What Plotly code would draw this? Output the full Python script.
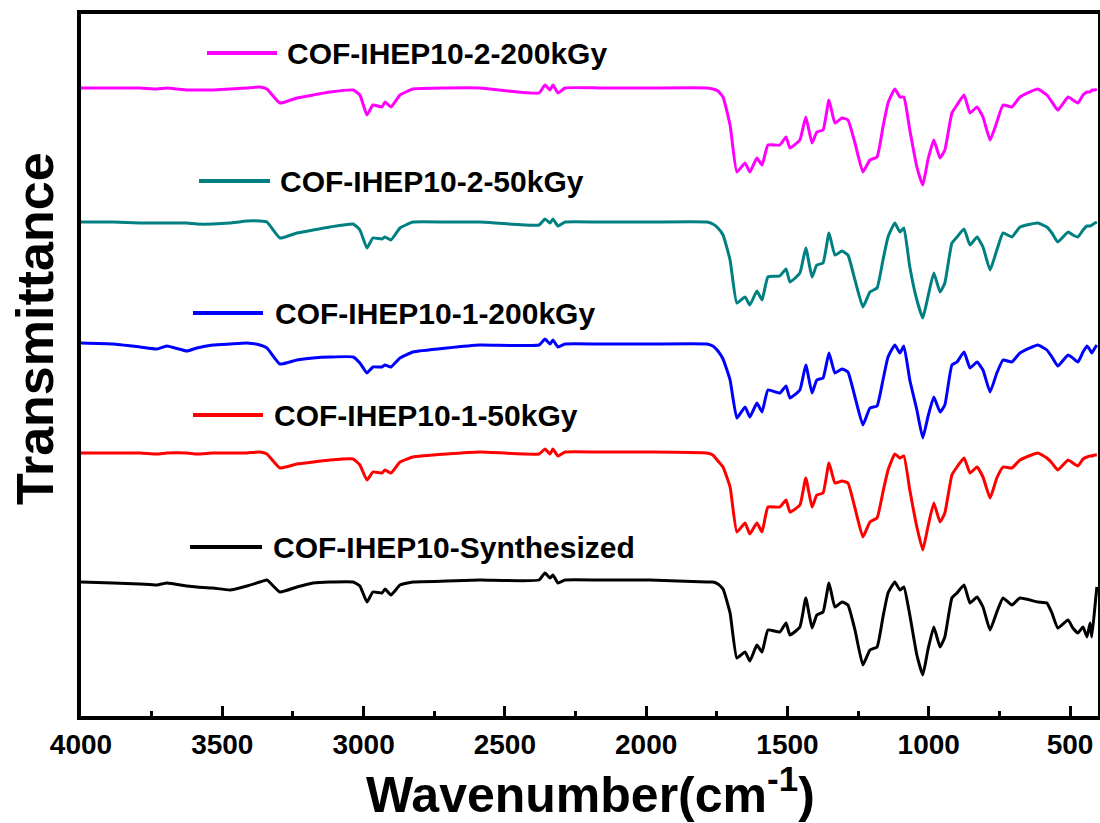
import plotly.graph_objects as go

# wavenumbers (cm-1) where the spectra were read
wavenumber = [
    4000, 3887, 3791, 3731, 3696, 3625, 3590, 3533, 3473, 3413, 3367, 3342, 3296, 3236, 3179, 3119,
    3037, 3013, 2988, 2967, 2935, 2924, 2903, 2871, 2825, 2705, 2588, 2379, 2358, 2340, 2330, 2312,
    2287, 2163, 1987, 1785, 1764, 1746,
    1728, 1703, 1679, 1650, 1633, 1608, 1590, 1569, 1527, 1505, 1491, 1456, 1435, 1413, 1396, 1374,
    1353, 1332, 1307, 1286, 1261, 1233, 1208, 1183, 1162, 1144, 1120, 1102, 1088, 1067, 1042, 1021,
    1003, 982, 960, 943, 918, 900, 875, 854, 829, 808, 783, 759, 737, 706, 677, 614, 582, 564, 543,
    507, 490, 472, 454, 440, 429, 423, 412, 405,
]

# relative transmittance (a.u.), each curve relative to its own baseline
t_synth = [
    0, -1, -2, -3, -1, -4, -5, -6, -8, -4, 0, 2, -10, -5, -1, 0, 0, -4, -20, -10, -11, -7, -13, -3,
    0, 1, 2, 2, 9, 4, 7, -1, 2, 2, 2, 0, 0, -2,
    -7, -31, -76, -70, -79, -63, -70, -48, -50, -41, -53, -45, -16, -46, -33, -30, -1, -25, -20, -23,
    -48, -83, -68, -65, -35, -11, 0, -8, -5, -33, -73, -93, -68, -45, -65, -55, -16, -11, -3, -21,
    -15, -25, -48, -30, -16, -23, -16, -20, -21, -31, -46, -38, -46, -51, -45, -55, -41, -55, -25, -5,
]
t_1_50 = [
    0, 0, 0, -1, 0, 0, -1, 0, 0, 0, 1, -1, -15, -11, -9, -7, -6, -12, -27, -19, -20, -17, -20, -9,
    -4, -1, 1, -1, 4, -1, 4, -3, 1, 1, 1, 0, -2, -8,
    -14, -34, -79, -70, -81, -70, -79, -54, -54, -47, -59, -52, -25, -54, -42, -40, -10, -30, -28, -30,
    -55, -84, -69, -65, -39, -17, -1, -5, -3, -37, -74, -97, -74, -50, -69, -60, -22, -14, -5, -20,
    -14, -24, -45, -25, -14, -15, -7, 0, -5, -10, -17, -7, -10, -13, -6, -4, -3, -3, -2, -2,
]
t_1_200 = [
    0, -1, -4, -6, -3, -8, -5, -2, -1, 0, -2, -5, -21, -17, -15, -14, -14, -20, -30, -24, -24, -22, -24, -15,
    -9, -5, -2, -2, 4, -1, 3, -4, -1, -1, -1, -1, -3, -8,
    -16, -37, -75, -64, -74, -60, -69, -47, -50, -43, -55, -47, -22, -50, -37, -35, -10, -30, -26, -29,
    -54, -82, -65, -63, -37, -14, -2, -10, -3, -37, -67, -95, -74, -54, -69, -62, -22, -19, -9, -25,
    -19, -27, -49, -30, -17, -19, -10, -2, -7, -14, -23, -12, -15, -19, -9, -3, -7, -10, -5, -2,
]
t_2_50 = [
    0, 0, -1, -1, -1, -1, -2, -2, -1, 1, 1, 0, -16, -11, -8, -5, -2, -8, -26, -16, -17, -15, -18, -6,
    0, 0, 0, -3, 3, -1, 3, -4, 0, 0, 0, 0, -2, -6,
    -13, -38, -81, -75, -83, -69, -78, -55, -54, -47, -60, -51, -26, -55, -43, -41, -11, -33, -29, -33,
    -58, -85, -70, -66, -38, -15, -1, -10, -6, -45, -78, -96, -75, -51, -70, -61, -21, -15, -7, -23,
    -15, -25, -48, -28, -11, -15, -5, -1, -5, -11, -20, -10, -13, -15, -8, -4, -4, -3, -1, 0,
]
t_2_200 = [
    0, 0, 0, -1, 0, -2, -2, -2, -1, 0, 1, -1, -15, -10, -7, -4, -2, -7, -27, -17, -19, -14, -19, -7,
    -1, 0, 0, -5, 3, -2, 3, -5, 0, 0, 0, 0, -1, -3,
    -9, -37, -84, -75, -84, -70, -77, -57, -57, -49, -60, -52, -29, -55, -44, -42, -12, -35, -30, -32,
    -55, -84, -72, -69, -39, -15, -1, -9, -9, -42, -79, -97, -72, -52, -70, -62, -25, -17, -7, -25,
    -19, -29, -52, -34, -17, -19, -9, -1, -7, -14, -22, -9, -12, -15, -7, -4, -4, -2, -2, -1,
]

names = [
    "COF-IHEP10-2-200kGy",
    "COF-IHEP10-2-50kGy",
    "COF-IHEP10-1-200kGy",
    "COF-IHEP10-1-50kGy",
    "COF-IHEP10-Synthesized",
]
series = [t_2_200, t_2_50, t_1_200, t_1_50, t_synth]
offsets = [628, 494, 373, 263, 134]
colors = ["#ff00ff", "#008080", "#0000ff", "#ff0000", "#000000"]

W, H = 1100, 823
# plot box in pixels (left, right, top, bottom)
L, R, T, B = 81, 1098, 14, 716


def px(x):
    return (x - L) / (R - L)


def py(y):
    return (B - y) / (B - T)


fig = go.Figure()
for name, vals, off, col in zip(names, series, offsets, colors):
    fig.add_trace(
        go.Scatter(
            x=wavenumber,
            y=[v + off for v in vals],
            mode="lines",
            name=name,
            line=dict(color=col, width=3, shape="spline", smoothing=0.4),
        )
    )

# hand placed legend entries (line sample + label above each curve)
legend_pos = [  # x0, x1, text x, y  (pixels)
    (207, 277, 285, 53),
    (199, 270, 278, 181),
    (193, 263, 273, 313),
    (193, 263, 272, 415),
    (190, 262, 271, 547),
]
shapes = []
annotations = []
for (x0, x1, tx, y), name, col in zip(legend_pos, names, colors):
    shapes.append(
        dict(type="line", xref="paper", yref="paper", x0=px(x0), x1=px(x1),
             y0=py(y), y1=py(y), line=dict(color=col, width=4))
    )
    annotations.append(
        dict(xref="paper", yref="paper", x=px(tx), y=py(y), text=name, showarrow=False,
             xanchor="left", yanchor="middle",
             font=dict(family="Liberation Sans, Arial", size=30, color="black", weight="bold"))
    )

annotations.append(
    dict(xref="paper", yref="paper", x=px(35), y=py(329), text="Transmittance", textangle=-90,
         showarrow=False, xanchor="center", yanchor="middle",
         font=dict(family="Liberation Sans, Arial", size=52, color="black", weight="bold"))
)
annotations.append(
    dict(xref="paper", yref="paper", x=px(590), y=py(791), text="Wavenumber(cm<sup>-1</sup>)",
         showarrow=False, xanchor="center", yanchor="middle",
         font=dict(family="Liberation Sans, Arial", size=50, color="black", weight="bold"))
)

fig.update_layout(
    width=W,
    height=H,
    margin=dict(l=L, r=W - R, t=T, b=H - B),
    paper_bgcolor="white",
    plot_bgcolor="white",
    showlegend=False,
    shapes=shapes,
    annotations=annotations,
    xaxis=dict(
        range=[4000, 401],
        tick0=0,
        dtick=500,
        ticks="inside",
        ticklen=10,
        tickwidth=3,
        tickcolor="black",
        minor=dict(dtick=250, ticks="inside", ticklen=5, tickwidth=3, tickcolor="black"),
        showgrid=False,
        zeroline=False,
        showline=True,
        linewidth=4,
        linecolor="black",
        mirror=True,
        automargin=False,
        tickfont=dict(family="Liberation Sans, Arial", size=28, color="black", weight="bold"),
    ),
    yaxis=dict(
        range=[0, B - T],
        showticklabels=False,
        ticks="",
        showgrid=False,
        zeroline=False,
        showline=True,
        linewidth=4,
        linecolor="black",
        mirror=True,
        automargin=False,
    ),
)

# page has a default body margin and scrollbars; drop them so the figure fills the window
fig.write_html(
    "out.html",
    config={"displayModeBar": False},
    post_script="document.body.style.margin='0';document.documentElement.style.overflow='hidden';",
)
